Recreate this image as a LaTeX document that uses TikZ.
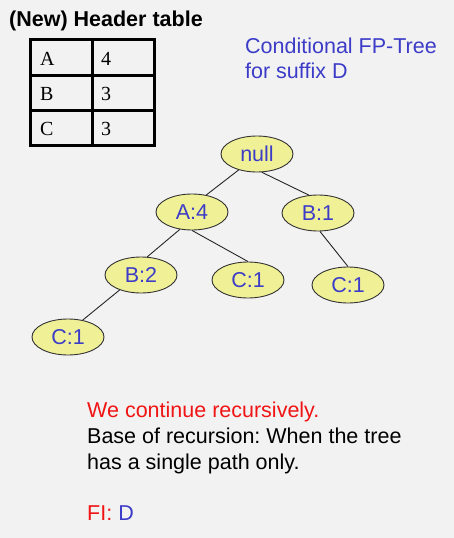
\documentclass[tikz,border=0pt]{standalone}
\usepackage{fontspec}
\setmainfont{Liberation Sans}
\newfontfamily\tabfont{Liberation Serif}
\usepackage{tikz}
\usetikzlibrary{shapes.geometric}
\definecolor{treeblue}{RGB}{60,60,200}
\definecolor{nodeyellow}{RGB}{240,240,150}
\definecolor{pagegray}{RGB}{242,242,242}
\definecolor{textred}{RGB}{240,20,20}
\frenchspacing

\begin{document}
\begin{tikzpicture}[x=1pt,y=-1pt,
  fp/.style={ellipse,draw=black!80,line width=.9pt,fill=nodeyellow,
    minimum width=72pt,minimum height=36pt,inner sep=0pt,
    text=treeblue,font=\fontsize{21.5}{24}\selectfont},
  edge/.style={black!85,line width=.9pt},
  txt/.style={anchor=base west,inner sep=0pt,font=\fontsize{21.5}{26}\selectfont},
  cell/.style={anchor=base west,inner sep=0pt,font=\tabfont\fontsize{20}{22}\selectfont}]
  \fill[pagegray] (0,0) rectangle (454,538);
  \useasboundingbox (0,0) rectangle (454,538);
  % header table
  \node[txt,font=\bfseries\fontsize{21.5}{26}\selectfont] (title) at (9,26) {(New) Header table};
  \draw[line width=3pt] (30,39) rectangle (154,145);
  \draw[line width=3pt] (30,75) -- (154,75);
  \draw[line width=3pt] (30,110) -- (154,110);
  \draw[line width=3pt] (92,39) -- (92,145);
  \node[cell] (ia) at (40,65.5) {A};
  \node[cell] (ca) at (101,65.5) {4};
  \node[cell] (ib) at (40,100.5) {B};
  \node[cell] (cb) at (101,100.5) {3};
  \node[cell] (ic) at (40,135) {C};
  \node[cell] (cc) at (101,135) {3};
  \node[txt,text=treeblue] (cond) at (245,53) {Conditional FP-Tree};
  \node[txt,text=treeblue] (suffix) at (245,78) {for suffix D};
  % tree
  \node[fp] (null) at (257,154) {null};
  \node[fp] (a4) at (192,212) {A:4};
  \node[fp] (b1) at (318,213) {B:1};
  \node[fp] (b2) at (141,275) {B:2};
  \node[fp] (c1a) at (248,280) {C:1};
  \node[fp] (c1b) at (348,285) {C:1};
  \node[fp] (c1c) at (68,337) {C:1};
  \draw[edge] (null.221) -- (a4.50);
  \draw[edge] (null.285) -- (b1.117);
  \draw[edge] (a4.235) -- (b2.71);
  \draw[edge] (a4.south) -- (c1a.north);
  \draw[edge] (b1.276) -- (c1b.north);
  \draw[edge] (b2.215) -- (c1c.49);
  % notes
  \node[txt,text=textred] (rec) at (87,417) {We continue recursively.};
  \node[txt] (base) at (87,443) {Base of recursion: When the tree};
  \node[txt] (path) at (87,469) {has a single path only.};
  \node[txt] (fi) at (87,520) {\textcolor{textred}{FI:} \textcolor{treeblue}{D}};
\end{tikzpicture}
\end{document}
